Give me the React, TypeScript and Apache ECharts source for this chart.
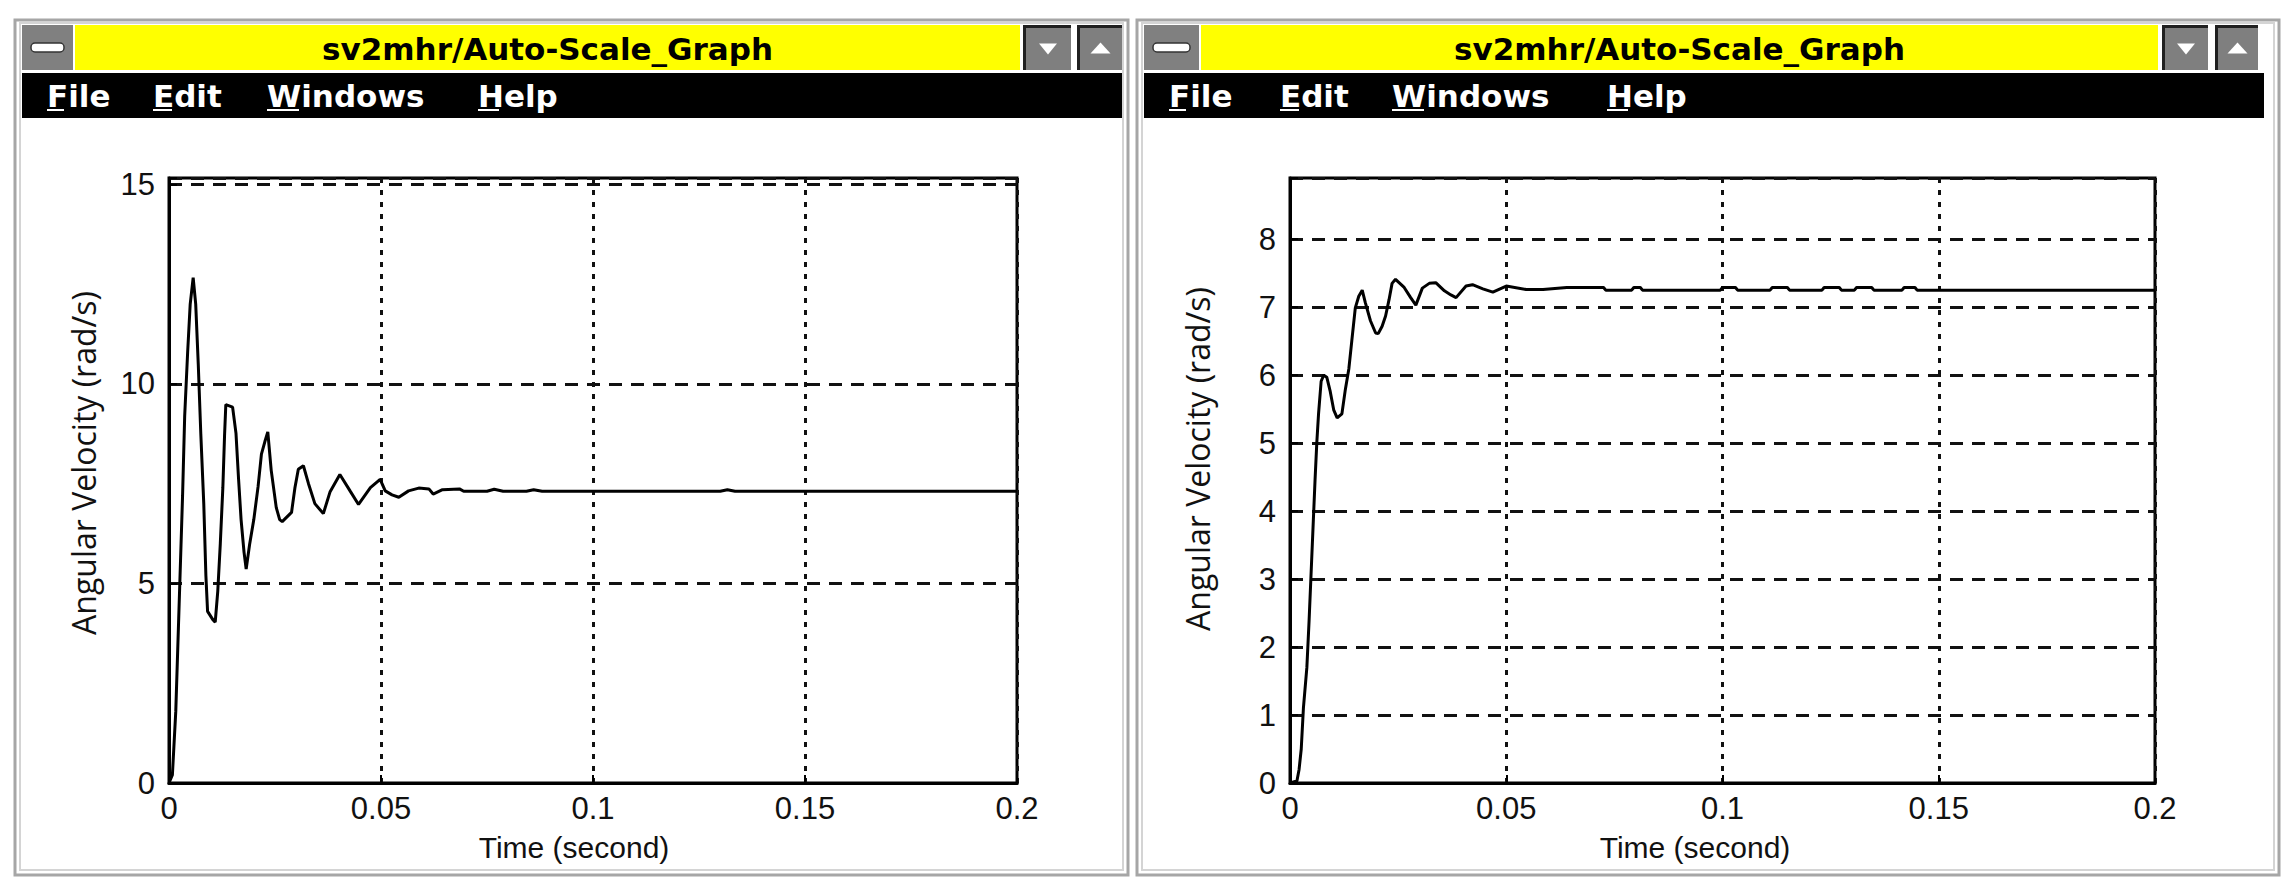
import React, { useEffect, useRef } from "react";
import * as echarts from "echarts";

// ---------- data ----------
const WINDOW_TITLE = "sv2mhr/Auto-Scale_Graph";
const MENU_ITEMS = ["File", "Edit", "Windows", "Help"];
const X_TITLE = "Time (second)";
const Y_TITLE = "Angular Velocity (rad/s)";
const X_MIN = 0;
const X_MAX = 0.2;
const X_STEP = 0.05;

const LEFT_Y_MAX = 15.16;
const LEFT_Y_STEP = 5;
const RIGHT_Y_MAX = 8.9;
const RIGHT_Y_STEP = 1;

// Left window: oscillating response (time s, angular velocity rad/s)
const leftTime = [
  0, 0.0008, 0.0016, 0.0024, 0.0032, 0.0037, 0.0044, 0.005, 0.0057, 0.0063,
  0.0069, 0.0075, 0.0082, 0.0087, 0.0091, 0.0103, 0.0109, 0.0115, 0.0121, 0.0127,
  0.0131, 0.0134, 0.015, 0.0158, 0.0164, 0.017, 0.0177, 0.0182, 0.019, 0.02,
  0.021, 0.0218, 0.0226, 0.0233, 0.0241, 0.0253, 0.0261, 0.0267, 0.0289, 0.0297,
  0.0305, 0.0317, 0.0329, 0.0344, 0.0364, 0.038, 0.0403, 0.0427, 0.0447, 0.0475,
  0.0498, 0.051, 0.0526, 0.0542, 0.0565, 0.0589, 0.0613, 0.0623, 0.0645, 0.0685,
  0.0695, 0.075, 0.0767, 0.0788, 0.0843, 0.086, 0.088, 0.13, 0.1317, 0.1335, 0.2,
];
const leftVelocity = [
  0, 0.2, 1.8, 4.5, 7.2, 9.2, 10.8, 12.0, 12.66, 12.0,
  10.5, 8.75, 7.0, 5.2, 4.3, 4.1, 4.03, 4.8, 6.0, 7.4,
  8.7, 9.48, 9.42, 8.76, 7.63, 6.6, 5.78, 5.36, 5.97, 6.6,
  7.42, 8.24, 8.55, 8.8, 7.84, 6.9, 6.6, 6.55, 6.78, 7.4,
  7.86, 7.95, 7.5, 7.0, 6.75, 7.3, 7.73, 7.32, 6.98, 7.4,
  7.61, 7.32, 7.22, 7.16, 7.32, 7.39, 7.37, 7.24, 7.35, 7.37,
  7.31, 7.31, 7.36, 7.31, 7.31, 7.35, 7.31, 7.31, 7.35, 7.31, 7.31,
];

// Right window: damped rise (time s, angular velocity rad/s)
const rightTime = [
  0, 0.0016, 0.0021, 0.0026, 0.0031, 0.0039, 0.0044, 0.005, 0.0054, 0.0058,
  0.0062, 0.0066, 0.0072, 0.0078, 0.0085, 0.0093, 0.0101, 0.0109, 0.012, 0.0128,
  0.0136, 0.0143, 0.0151, 0.0159, 0.0167, 0.0174, 0.0186, 0.0198, 0.0204, 0.0213,
  0.0221, 0.0229, 0.0236, 0.0244, 0.0264, 0.0279, 0.0291, 0.0306, 0.0322, 0.0337,
  0.0357, 0.0372, 0.0384, 0.0407, 0.0422, 0.0446, 0.0469, 0.05, 0.0546, 0.0585,
  0.064, 0.0725, 0.073, 0.079, 0.0795, 0.081, 0.0815, 0.0995, 0.1, 0.103,
  0.1035, 0.111, 0.1115, 0.115, 0.1155, 0.123, 0.1235, 0.127, 0.1275, 0.1305,
  0.131, 0.1345, 0.135, 0.1415, 0.142, 0.1445, 0.145, 0.2,
];
const rightVelocity = [
  0, 0.03, 0.2, 0.5, 1.1, 1.7, 2.37, 3.27, 3.87, 4.47,
  5.01, 5.43, 5.91, 6.0, 5.97, 5.76, 5.49, 5.37, 5.43, 5.79,
  6.09, 6.51, 6.99, 7.16, 7.25, 7.07, 6.8, 6.62, 6.61, 6.72,
  6.87, 7.11, 7.35, 7.41, 7.29, 7.14, 7.03, 7.28, 7.35, 7.36,
  7.24, 7.18, 7.14, 7.31, 7.33, 7.27, 7.22, 7.31, 7.26, 7.26,
  7.29, 7.29, 7.25, 7.25, 7.29, 7.29, 7.25, 7.25, 7.29, 7.29,
  7.25, 7.25, 7.29, 7.29, 7.25, 7.25, 7.29, 7.29, 7.25, 7.25,
  7.29, 7.29, 7.25, 7.25, 7.29, 7.29, 7.25, 7.25,
];

// ---------- styling ----------
const TICK_FONT = "'Liberation Sans', Arial, sans-serif";
const TITLE_FONT = "'DejaVu Sans', 'Liberation Sans', sans-serif";
const AXIS_TITLE_FONT = "'Open Sans', 'Noto Sans', sans-serif";

type WinGeom = {
  x0: number; x1: number; y0: number; y1: number;
  minW: number; yellowX0: number; yellowX1: number;
  downX: number; downW: number; upX: number; upW: number;
  menuX1: number; menuTextX: number[];
  yTitleX: number; yTitleY: number; xTitleX: number;
};

const WINDOWS: WinGeom[] = [
  {
    x0: 15, x1: 1128, y0: 20, y1: 875, minW: 51, yellowX0: 75, yellowX1: 1020,
    downX: 1023, downW: 48, upX: 1077, upW: 45, menuX1: 1122,
    menuTextX: [47, 153, 267, 478], yTitleX: 83, yTitleY: 463, xTitleX: 574,
  },
  {
    x0: 1137, x1: 2279, y0: 20, y1: 875, minW: 55, yellowX0: 1201, yellowX1: 2158,
    downX: 2162, downW: 46, upX: 2215, upW: 43, menuX1: 2264,
    menuTextX: [1169, 1280, 1392, 1607], yTitleX: 1197, yTitleY: 459, xTitleX: 1695,
  },
];

const UNDERLINE_W = [17, 19, 32, 21];

function windowGraphics(w: WinGeom): any[] {
  const els: any[] = [];
  const top = 25;
  const barH = 45;
  const menuTop = 73;
  const menuH = 45;
  const innerX0 = w.x0 + 7;
  // frame
  els.push({
    type: "rect", silent: true, z: -10,
    shape: { x: w.x0, y: w.y0, width: w.x1 - w.x0, height: w.y1 - w.y0 },
    style: { fill: "#ffffff", stroke: "#a6a6a6", lineWidth: 3 },
  });
  els.push({
    type: "rect", silent: true, z: -9,
    shape: { x: w.x0 + 5, y: w.y0 + 3, width: w.x1 - w.x0 - 10, height: w.y1 - w.y0 - 8 },
    style: { fill: "none", stroke: "#d4d4d4", lineWidth: 2 },
  });
  // minimize box
  els.push({
    type: "rect", silent: true,
    shape: { x: innerX0, y: top, width: w.minW, height: barH },
    style: { fill: "#808080" },
  });
  els.push({
    type: "rect", silent: true,
    shape: { x: innerX0 + 9, y: top + 18, width: w.minW - 18, height: 9, r: 4 },
    style: { fill: "#ffffff", stroke: "#333333", lineWidth: 1.5 },
  });
  // yellow title bar
  els.push({
    type: "rect", silent: true,
    shape: { x: w.yellowX0, y: top, width: w.yellowX1 - w.yellowX0, height: barH },
    style: { fill: "#ffff00" },
  });
  els.push({
    type: "text", silent: true,
    x: (w.yellowX0 + w.yellowX1) / 2, y: top + barH / 2 + 1,
    style: {
      text: WINDOW_TITLE, fill: "#000000", fontSize: 31, fontWeight: "bold",
      fontFamily: TITLE_FONT, textAlign: "center", textVerticalAlign: "middle",
    },
  });
  // down / up buttons
  const btn = (bx: number, bw: number, down: boolean) => {
    els.push({
      type: "rect", silent: true,
      shape: { x: bx, y: top, width: bw, height: barH },
      style: { fill: "#7f7f7f" },
    });
    els.push({
      type: "polyline", silent: true,
      shape: { points: [[bx + 1.5, top + barH], [bx + 1.5, top + 1.5], [bx + bw, top + 1.5]] },
      style: { stroke: "#202020", lineWidth: 3, fill: "none" },
    });
    const cx = bx + bw / 2 + 1;
    const cy = top + barH / 2 + 1;
    const pts = down
      ? [[cx - 9, cy - 5], [cx + 9, cy - 5], [cx, cy + 6]]
      : [[cx - 10, cy + 5], [cx + 10, cy + 5], [cx, cy - 6]];
    els.push({ type: "polygon", silent: true, shape: { points: pts }, style: { fill: "#ffffff" } });
  };
  btn(w.downX, w.downW, true);
  btn(w.upX, w.upW, false);
  // menu bar
  els.push({
    type: "rect", silent: true,
    shape: { x: innerX0, y: menuTop, width: w.menuX1 - innerX0, height: menuH },
    style: { fill: "#000000" },
  });
  MENU_ITEMS.forEach((m, i) => {
    els.push({
      type: "text", silent: true,
      x: w.menuTextX[i], y: menuTop + menuH / 2,
      style: {
        text: m, fill: "#ffffff", fontSize: 31, fontWeight: "bold",
        fontFamily: TITLE_FONT, textAlign: "left", textVerticalAlign: "middle",
      },
    });
    els.push({
      type: "rect", silent: true,
      shape: { x: w.menuTextX[i], y: menuTop + menuH - 9, width: UNDERLINE_W[i], height: 2 },
      style: { fill: "#ffffff" },
    });
  });
  // axis titles
  els.push({
    type: "text", silent: true,
    x: w.yTitleX, y: w.yTitleY, rotation: Math.PI / 2,
    style: {
      text: Y_TITLE, fill: "#111111", fontSize: 32,
      fontFamily: AXIS_TITLE_FONT, textAlign: "center", textVerticalAlign: "middle",
    },
  });
  els.push({
    type: "text", silent: true,
    x: w.xTitleX, y: 847,
    style: {
      text: X_TITLE, fill: "#111111", fontSize: 30,
      fontFamily: TICK_FONT, textAlign: "center", textVerticalAlign: "middle",
    },
  });
  return els;
}

function isMultiple(v: number, step: number) {
  const r = v / step;
  return Math.abs(r - Math.round(r)) < 1e-6;
}

function xAxisCfg(gridIndex: number) {
  return {
    gridIndex, type: "value", min: X_MIN, max: X_MAX, interval: X_STEP,
    axisLine: { show: true, onZero: false, lineStyle: { color: "#000", width: 3 } },
    axisTick: { show: true, inside: true, length: 8, lineStyle: { color: "#000", width: 2 } },
    axisLabel: {
      margin: 10, fontSize: 31, color: "#111", fontFamily: TICK_FONT,
      formatter: (v: number) => String(+v.toFixed(4)),
    },
    splitLine: { show: true, lineStyle: { color: "#111", width: 3, type: [5, 7] } },
  };
}

function yAxisCfg(gridIndex: number, max: number, step: number) {
  return {
    gridIndex, type: "value", min: 0, max, interval: step,
    axisLine: { show: true, onZero: false, lineStyle: { color: "#000", width: 3 } },
    axisTick: { show: true, inside: true, length: 8, lineStyle: { color: "#000", width: 2 } },
    axisLabel: {
      margin: 14, fontSize: 31, color: "#111", fontFamily: TICK_FONT,
      formatter: (v: number) => (isMultiple(v, step) ? String(Math.round(v)) : ""),
    },
    splitLine: { show: true, lineStyle: { color: "#111", width: 3, type: [13, 9] } },
  };
}

export default function App() {
  const ref = useRef<HTMLDivElement>(null);

  useEffect(() => {
    if (!ref.current) return;
    const chart = echarts.init(ref.current, undefined, { renderer: "svg" });
    const option: any = {
      animation: false,
      backgroundColor: "#ffffff",
      graphic: { elements: [...windowGraphics(WINDOWS[0]), ...windowGraphics(WINDOWS[1])] },
      grid: [
        { left: 169, top: 178, width: 848, height: 605, show: true, borderColor: "#000", borderWidth: 3, backgroundColor: "transparent", containLabel: false },
        { left: 1290, top: 178, width: 865, height: 605, show: true, borderColor: "#000", borderWidth: 3, backgroundColor: "transparent", containLabel: false },
      ],
      xAxis: [xAxisCfg(0), xAxisCfg(1)],
      yAxis: [yAxisCfg(0, LEFT_Y_MAX, LEFT_Y_STEP), yAxisCfg(1, RIGHT_Y_MAX, RIGHT_Y_STEP)],
      series: [
        {
          type: "line", xAxisIndex: 0, yAxisIndex: 0, showSymbol: false, silent: true,
          data: leftTime.map((t, i) => [t, leftVelocity[i]]),
          lineStyle: { color: "#000", width: 3 }, z: 5,
        },
        {
          type: "line", xAxisIndex: 1, yAxisIndex: 1, showSymbol: false, silent: true,
          data: rightTime.map((t, i) => [t, rightVelocity[i]]),
          lineStyle: { color: "#000", width: 3 }, z: 5,
        },
      ],
    };
    chart.setOption(option);
    return () => chart.dispose();
  }, []);

  return (
    <div
      ref={ref}
      style={{ position: "absolute", left: 0, top: 0, width: 2291, height: 892, background: "#fff" }}
    />
  );
}
